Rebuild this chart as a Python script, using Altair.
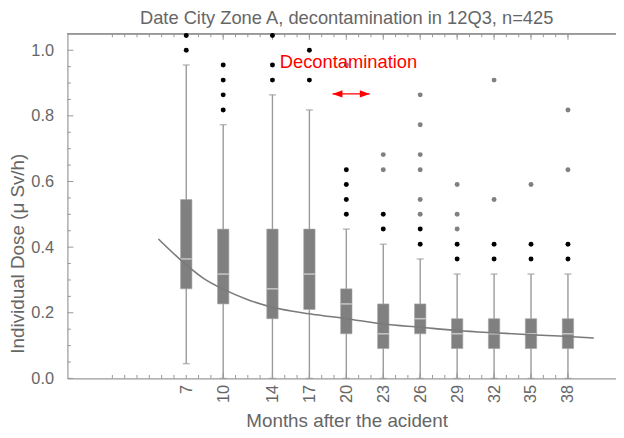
import altair as alt
import pandas as pd

# ---------------- data ----------------
months = [7, 10, 14, 17, 20, 23, 26, 29, 32, 35, 38]
whisker_lo = [0.045, 0.0, 0.0, 0.0, 0.0, 0.0, 0.0, 0.0, 0.0, 0.0, 0.0]
q1 = [0.273, 0.227, 0.182, 0.21, 0.136, 0.091, 0.136, 0.091, 0.091, 0.091, 0.091]
median = [0.364, 0.318, 0.273, 0.318, 0.227, 0.136, 0.182, 0.136, 0.136, 0.136, 0.136]
q3 = [0.545, 0.455, 0.455, 0.455, 0.273, 0.227, 0.227, 0.182, 0.182, 0.182, 0.182]
whisker_hi = [0.955, 0.773, 0.864, 0.818, 0.455, 0.409, 0.364, 0.318, 0.318, 0.318, 0.318]

near_x = [7, 7, 10, 10, 10, 10, 14, 14, 14, 17, 17, 20, 20, 20, 20,
          23, 23, 26, 26, 29, 29, 32, 32, 35, 35, 38, 38]
near_y = [1.0, 1.045, 0.818, 0.864, 0.909, 0.955, 0.909, 0.955, 1.045, 0.909, 1.0,
          0.5, 0.545, 0.591, 0.636, 0.455, 0.5, 0.409, 0.455, 0.364, 0.409,
          0.364, 0.409, 0.364, 0.409, 0.364, 0.409]
far_x = [20, 23, 23, 26, 26, 26, 26, 26, 26, 29, 29, 29, 32, 32, 35, 38, 38]
far_y = [0.955, 0.636, 0.682, 0.5, 0.545, 0.636, 0.682, 0.773, 0.864,
         0.455, 0.5, 0.591, 0.545, 0.909, 0.591, 0.636, 0.818]

fit_months = [4.74, 7, 8.4, 10, 12, 14, 17, 20, 23, 26, 29, 32, 35, 38, 40.1]
fit_dose = [0.425, 0.346, 0.305, 0.272, 0.240, 0.217, 0.197, 0.182, 0.166,
            0.156, 0.146, 0.139, 0.133, 0.128, 0.123]

x_labels = [7, 10, 14, 17, 20, 23, 26, 29, 32, 35, 38]
x_major = [10, 14, 17, 20, 23, 26, 29, 32, 35, 38]
x_minor = list(range(1, 39))
y_labels = [0.0, 0.2, 0.4, 0.6, 0.8, 1.0]
y_minor = [0.05, 0.1, 0.15, 0.25, 0.3, 0.35, 0.45, 0.5, 0.55, 0.65, 0.7, 0.75,
           0.85, 0.9, 0.95]

annot_text = ["Decontamination"]
annot_x = [14.6]
annot_y = [0.963]
arrow_x = [18.88, 21.9]
arrow_y = [0.867, 0.867]

title_text = ["Date City Zone A, decontamination in 12Q3, n=425"]
x_title = "Months after the acident"
y_title = ["Individual Dose (\u03bc Sv/h)"]

# ---------------- layout ----------------
W, H = 554, 348
FONT = "Liberation Sans"
TXT = "#666666"
AX = "#999999"
BOX = "#808080"

xs = alt.Scale(domain=[-2.25, 41.5], nice=False, zero=False)
ys = alt.Scale(domain=[0, 1.05], nice=False, zero=False)

x_axis = alt.Axis(values=x_labels, labelAngle=-90, labelPadding=6, ticks=False,
                  tickSize=0, grid=False, title=x_title, titleX=282, titleY=43,
                  titleAlign="center", titleBaseline="middle")
y_axis = alt.Axis(values=y_labels, format=".1f", labelPadding=14, ticks=False,
                  tickSize=0, grid=False, title=None)


def X(f):
    return alt.X(f, type="quantitative", scale=xs, axis=x_axis)


def Y(f):
    return alt.Y(f, type="quantitative", scale=ys, axis=y_axis)


boxes = pd.DataFrame({"m": months, "lo": whisker_lo, "q1": q1, "med": median,
                      "q3": q3, "hi": whisker_hi})
near = pd.DataFrame({"m": near_x, "v": near_y})
far = pd.DataFrame({"m": far_x, "v": far_y})
fit = pd.DataFrame({"m": fit_months, "v": fit_dose})
xmin = pd.DataFrame({"m": x_minor})
xmaj = pd.DataFrame({"m": x_major})
ymin = pd.DataFrame({"v": y_minor})
ymaj = pd.DataFrame({"v": y_labels})
annot = pd.DataFrame({"m": annot_x, "v": annot_y, "t": annot_text})
arrow = pd.DataFrame({"m": arrow_x, "v": arrow_y})
arrow_l = pd.DataFrame({"m": arrow_x[:1], "v": arrow_y[:1]})
arrow_r = pd.DataFrame({"m": arrow_x[1:], "v": arrow_y[1:]})
ytitle_df = pd.DataFrame({"t": y_title})
title_df = pd.DataFrame({"t": title_text})

layers = []
# frame ticks (inward)
layers.append(alt.Chart(xmin).mark_rule(color=AX, strokeWidth=1).encode(
    x=X("m"), y=alt.value(H), y2=alt.value(H - 3.5)))
layers.append(alt.Chart(xmaj).mark_rule(color=AX, strokeWidth=1).encode(
    x=X("m"), y=alt.value(H), y2=alt.value(H - 6)))
layers.append(alt.Chart(xmin).mark_rule(color=AX, strokeWidth=1).encode(
    x=X("m"), y=alt.value(0), y2=alt.value(3.5)))
layers.append(alt.Chart(xmaj).mark_rule(color=AX, strokeWidth=1).encode(
    x=X("m"), y=alt.value(0), y2=alt.value(6)))
layers.append(alt.Chart(ymin).mark_rule(color=AX, strokeWidth=1).encode(
    y=Y("v"), x=alt.value(0), x2=alt.value(3.5)))
layers.append(alt.Chart(ymaj).mark_rule(color=AX, strokeWidth=1).encode(
    y=Y("v"), x=alt.value(0), x2=alt.value(6)))
# top frame line
layers.append(alt.Chart(ymaj).mark_rule(color=AX, strokeWidth=1).encode(
    x=alt.value(0), x2=alt.value(W), y=alt.value(0)))

# whiskers
layers.append(alt.Chart(boxes).mark_rule(color="#9a9a9a", strokeWidth=1.4).encode(
    x=X("m"), y=Y("lo"), y2="hi"))
layers.append(alt.Chart(boxes).mark_tick(orient="horizontal", color="#9a9a9a",
                                         size=7, thickness=1.4).encode(x=X("m"), y=Y("hi")))
layers.append(alt.Chart(boxes).mark_tick(orient="horizontal", color="#9a9a9a",
                                         size=7, thickness=1.4).encode(x=X("m"), y=Y("lo")))
# boxes
layers.append(alt.Chart(boxes).mark_bar(width=11.5, color=BOX, stroke="#a8a8a8",
                                        strokeWidth=0.6).encode(x=X("m"), y=Y("q1"), y2="q3"))
layers.append(alt.Chart(boxes).mark_tick(orient="horizontal", color="#e6e6e6",
                                         size=11, thickness=1.5).encode(x=X("m"), y=Y("med")))
# fitted curve
layers.append(alt.Chart(fit).mark_line(color="#7a7a7a", strokeWidth=1.6,
                                       interpolate="monotone").encode(x=X("m"), y=Y("v")))
# outliers
layers.append(alt.Chart(far).mark_circle(color="#808080", size=25, opacity=1,
                                         clip=False).encode(x=X("m"), y=Y("v")))
layers.append(alt.Chart(near).mark_circle(color="#000000", size=25, opacity=1,
                                          clip=False).encode(x=X("m"), y=Y("v")))
# annotation
layers.append(alt.Chart(annot).mark_text(color="#ff0000", font=FONT, fontSize=18.5,
                                         align="left", baseline="middle").encode(
    x=X("m"), y=Y("v"), text="t:N"))
layers.append(alt.Chart(arrow).mark_line(color="#ff0000", strokeWidth=1.2).encode(
    x=X("m"), y=Y("v")))
layers.append(alt.Chart(arrow_l).mark_point(shape="M0,0 L2,-0.75 L2,0.75 Z", size=100,
                                            filled=True, color="#ff0000", opacity=1).encode(
    x=X("m"), y=Y("v")))
layers.append(alt.Chart(arrow_r).mark_point(shape="M0,0 L-2,-0.75 L-2,0.75 Z", size=100,
                                            filled=True, color="#ff0000", opacity=1).encode(
    x=X("m"), y=Y("v")))
# y axis title as rotated text
layers.append(alt.Chart(ytitle_df).mark_text(font=FONT, fontSize=19, color=TXT, angle=270,
                                             align="center", baseline="middle").encode(
    x=alt.value(-50), y=alt.value(222), text="t:N"))
# chart title
layers.append(alt.Chart(title_df).mark_text(font=FONT, fontSize=18.5, color=TXT,
                                            align="center", baseline="alphabetic").encode(
    x=alt.value(W / 2 + 5), y=alt.value(-10), text="t:N"))

chart = alt.layer(*layers).properties(
    width=W, height=H,
    autosize=alt.AutoSizeParams(type="none"),
    padding={"left": 60, "top": 24, "right": 0, "bottom": 50},
).configure_view(stroke=None).configure_axis(
    labelFont=FONT, titleFont=FONT, labelFontSize=16.5, titleFontSize=19,
    labelColor=TXT, titleColor=TXT, titleFontWeight="normal",
    domainColor=AX, domainWidth=1.2,
)

chart.save("out.html", embed_options={"renderer": "svg", "actions": False})
